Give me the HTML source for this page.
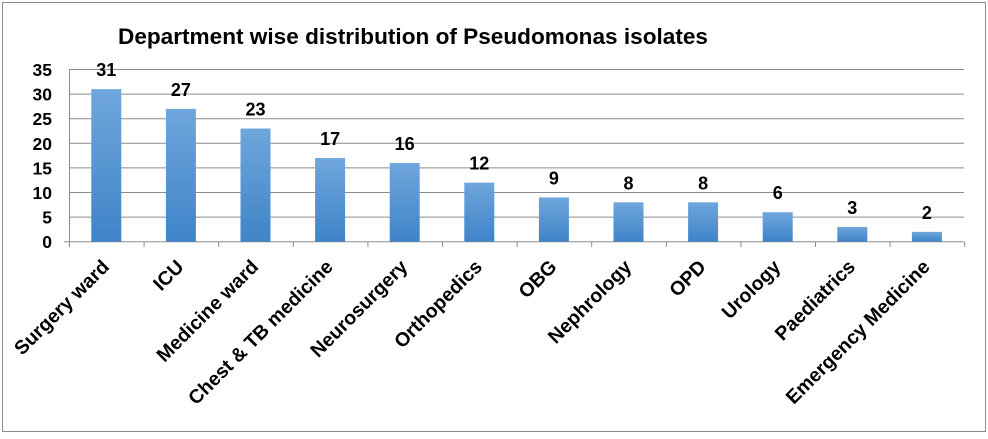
<!DOCTYPE html>
<html><head><style>
html,body{margin:0;padding:0;background:#fff;}
svg text{font-family:"Liberation Sans",Arial,sans-serif;font-weight:bold;}
</style></head><body>
<svg width="988" height="434" xmlns="http://www.w3.org/2000/svg">
<defs>
<linearGradient id="g" x1="0" y1="0" x2="0" y2="1">
<stop offset="0" stop-color="#6fa6dc"/><stop offset="1" stop-color="#3f84c8"/>
</linearGradient>
</defs>
<rect x="2.5" y="2.5" width="983" height="429" fill="#fff" stroke="#8c8c8c" stroke-width="1"/>
<text x="118" y="44" font-size="22.5" fill="#000" textLength="590" lengthAdjust="spacingAndGlyphs">Department wise distribution of Pseudomonas isolates</text>
<g stroke="#8c8c8c" stroke-width="1">
<line x1="69" y1="69.5" x2="964" y2="69.5"/>
<line x1="69" y1="94.1" x2="964" y2="94.1"/>
<line x1="69" y1="118.7" x2="964" y2="118.7"/>
<line x1="69" y1="143.3" x2="964" y2="143.3"/>
<line x1="69" y1="167.9" x2="964" y2="167.9"/>
<line x1="69" y1="192.5" x2="964" y2="192.5"/>
<line x1="69" y1="217.1" x2="964" y2="217.1"/>
<line x1="69.5" y1="69" x2="69.5" y2="242"/>
<line x1="64" y1="241.7" x2="964" y2="241.7"/>
</g>
<g stroke="#8c8c8c" stroke-width="1" id="ticks"></g>
<g font-size="17.5" text-anchor="end" fill="#000">
<text x="52" y="76">35</text><text x="52" y="100.5">30</text><text x="52" y="125">25</text>
<text x="52" y="150">20</text><text x="52" y="174.5">15</text><text x="52" y="199">10</text>
<text x="52" y="223.5">5</text><text x="52" y="248">0</text>
</g>
<g id="bars"></g>
<script>
var d=[["Surgery ward",31],["ICU",27],["Medicine ward",23],["Chest & TB medicine",17],["Neurosurgery",16],["Orthopedics",12],["OBG",9],["Nephrology",8],["OPD",8],["Urology",6],["Paediatrics",3],["Emergency Medicine",2]];
var ns="http://www.w3.org/2000/svg",b=document.getElementById("bars"),t=document.getElementById("ticks");
var step=74.6,y0=241.7,u=4.92;
function el(n,a,p){var e=document.createElementNS(ns,n);for(var k in a)e.setAttribute(k,a[k]);p.appendChild(e);return e;}
for(var i=0;i<=12;i++){var x=69.5+i*step;el("line",{x1:x,y1:241.7,x2:x,y2:247},t);}
d.forEach(function(r,i){
var c=69+step*(i+0.5),h=r[1]*u;
el("rect",{x:c-15,y:y0-h,width:30,height:h,fill:"url(#g)"},b);
var tx=el("text",{x:c,y:y0-h-13,"font-size":"18","text-anchor":"middle"},b);tx.textContent=r[1];
var lb=el("text",{x:c+4,y:268,"font-size":"19.5","text-anchor":"end",transform:"rotate(-45 "+(c+4)+" 268)"},b);lb.textContent=r[0];
});
</script>
</svg>
</body></html>
